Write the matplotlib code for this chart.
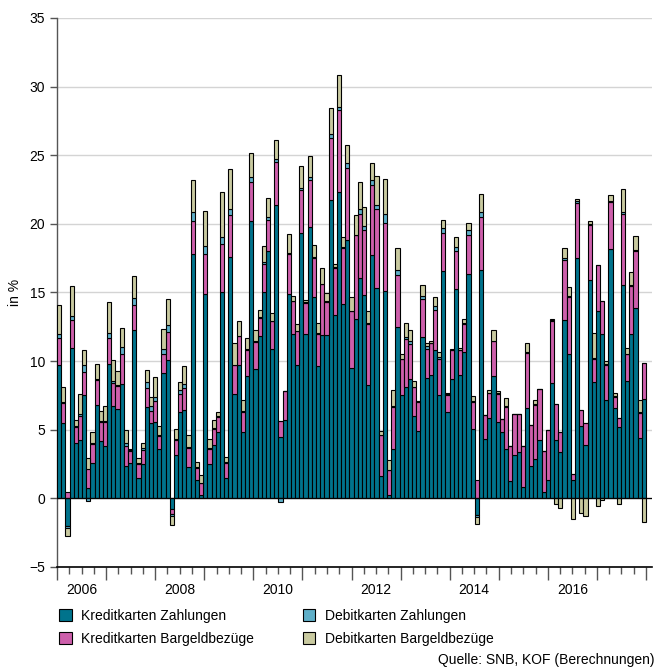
import matplotlib
matplotlib.use("Agg")
import matplotlib.pyplot as plt
import numpy as np

plt.rcParams['font.family'] = ['Liberation Sans', 'DejaVu Sans']

# monthly values from Jan 2006, in %
kredit_zahlungen = [
    9.74, 5.5, -2.0, 10.95, 4.06, 4.28, 7.5, 0.78, 2.6, 6.8, 4.2, 3.8,
    9.8, 6.73, 6.54, 8.36, 2.36, 2.6, 12.3, 1.5, 2.5, 6.65, 5.5, 5.55,
    3.6, 9.15, 10.1, -0.75, 3.13, 6.3, 6.41, 2.28, 17.8, 1.31, 0.27, 14.9,
    2.48, 3.86, 4.83, 15.04, 1.5, 17.6, 7.63, 9.7, 4.83, 8.9, 20.2, 9.45,
    11.8, 15.0, 18.0, 10.9, 21.4, 4.47, 5.7, 14.87, 12.0, 9.74, 19.3, 11.95,
    19.8, 14.67, 9.65, 11.93, 11.88, 21.72, 13.39, 22.33, 14.19, 18.8, 9.5, 13.05,
    16.08, 14.8, 8.28, 17.76, 15.33, 1.6, 15.09, 0.22, 3.62, 12.45, 7.56, 8.11,
    8.67, 5.98, 4.88, 11.76, 8.77, 9.0, 10.84, 7.56, 16.55, 6.29, 8.72, 15.28,
    8.97, 10.67, 16.33, 5.08, -1.24, 16.62, 4.35, 5.88, 8.95, 5.6, 4.8, 3.62,
    1.3, 3.13, 3.38, 0.85, 6.61, 2.38, 2.87, 4.28, 0.5, 1.31, 8.41, 4.28,
    3.36, 13.02, 10.54, 1.36, 17.52, 5.28, 3.9, 15.9, 8.5, 13.64, 11.94, 7.19,
    18.2, 6.6, 5.22, 15.58, 8.54, 11.94, 13.9, 4.42, 7.26]
kredit_bargeld = [
    1.95, 1.45, 0.45, 2.05, 1.14, 1.75, 1.7, 1.35, 1.35, 1.8, 1.35, 1.75,
    1.9, 1.7, 1.66, 2.14, 1.44, 0.85, 1.8, 1.0, 1.05, 1.42, 0.9, 1.55,
    0.94, 1.35, 2.0, -0.36, 1.15, 1.33, 1.66, 1.39, 2.43, 0.9, 0.85, 2.9,
    1.14, 1.22, 1.1, 3.52, 1.07, 3.05, 2.06, 2.1, 1.46, 1.94, 2.86, 1.95,
    1.36, 2.07, 2.28, 2.0, 3.08, 1.17, 2.1, 2.95, 2.36, 2.43, 3.15, 2.28,
    3.4, 2.84, 2.36, 3.67, 2.43, 4.54, 3.4, 5.95, 4.06, 5.3, 4.13, 6.12,
    4.67, 4.73, 4.45, 5.1, 5.73, 2.99, 4.98, 1.82, 3.04, 3.85, 2.57, 3.48,
    2.6, 2.12, 2.14, 2.79, 2.13, 2.3, 2.86, 2.62, 2.75, 1.27, 2.07, 2.72,
    1.82, 2.06, 2.84, 1.94, 1.31, 3.88, 1.7, 1.78, 2.5, 2.03, 1.0, 3.06,
    2.49, 2.99, 2.74, 2.97, 4.0, 2.94, 3.96, 3.72, 2.94, 3.69, 4.51, 2.57,
    1.47, 4.38, 4.13, 0.44, 4.03, 1.18, 1.58, 4.05, 1.68, 3.34, 2.44, 2.55,
    3.4, 0.8, 0.66, 5.17, 1.96, 3.53, 4.15, 1.8, 2.6]
debit_zahlungen = [
    0.3, 0.07, -0.17, 0.3, 0.07, 0.15, 0.55, -0.2, 0.05, 0.07, 0.07, 0.07,
    0.35, 0.1, 0.07, 0.5, 0.2, 0.07, 0.5, 0.05, 0.1, 0.41, 0.3, 0.3,
    0.1, 0.4, 0.55, -0.2, 0.05, 0.29, 0.29, 0.05, 0.66, 0.05, 0.03, 0.6,
    0.05, 0.05, 0.05, 0.49, 0.05, 0.4, 0.05, 0.05, 0.05, 0.05, 0.34, 0.05,
    0.05, 0.12, 0.25, 0.05, 0.25, -0.3, 0.0, 0.05, 0.05, 0.05, 0.17, 0.05,
    0.25, 0.05, 0.05, 0.05, 0.05, 0.32, 0.05, 0.25, 0.05, 0.3, 0.05, 0.05,
    0.35, 0.33, 0.05, 0.32, 0.3, 0.05, 0.63, 0.05, 0.05, 0.32, 0.05, 0.17,
    0.17, 0.05, 0.05, 0.2, 0.2, 0.05, 0.3, 0.12, 0.4, 0.05, 0.05, 0.3,
    0.05, 0.05, 0.36, 0.05, -0.12, 0.37, 0.0, 0.05, 0.05, 0.05, 0.0, 0.05,
    0.0, 0.0, 0.0, 0.0, 0.05, 0.0, 0.05, 0.0, 0.0, 0.0, 0.05, 0.0,
    0.0, 0.15, 0.05, 0.0, 0.12, 0.0, 0.0, 0.05, 0.05, 0.0, 0.0, 0.05,
    0.1, 0.05, 0.0, 0.12, 0.05, 0.05, 0.05, 0.05, 0.0]
debit_bargeld = [
    2.1, 1.1, -0.55, 2.15, 0.43, 1.45, 1.05, 0.84, 0.83, 1.13, 0.78, 1.08,
    2.25, 1.57, 1.03, 1.4, 1.0, 0.08, 1.6, 0.41, 0.38, 0.9, 0.7, 1.45,
    0.66, 1.47, 1.85, -0.65, 0.75, 0.56, 1.31, 0.92, 2.31, 0.39, 0.53, 2.55,
    0.68, 0.56, 0.31, 3.25, 0.36, 2.95, 1.58, 1.07, 0.85, 0.8, 1.8, 0.8,
    0.5, 1.17, 1.36, 0.58, 1.38, 0.0, 0.0, 1.4, 0.33, 0.51, 1.58, 0.2,
    1.5, 0.93, 0.75, 1.15, 0.6, 1.87, 0.27, 2.3, 0.75, 1.38, 1.0, 1.41,
    1.96, 1.37, 0.87, 1.22, 2.14, 0.24, 2.6, 0.68, 1.16, 1.6, 0.37, 1.02,
    0.8, 0.38, 0.05, 0.82, 0.25, 0.15, 0.67, 0.37, 0.56, 0.1, 0.06, 0.75,
    0.12, 0.32, 0.57, 0.36, -0.5, 1.33, 0.0, 0.16, 0.74, 0.17, 0.0, 0.6,
    0.0, 0.0, 0.0, 0.0, 0.66, 0.0, 0.32, 0.0, 0.0, 0.0, 0.13, -0.4,
    -0.72, 0.72, 0.68, -1.49, 0.17, -1.05, -1.3, 0.2, 1.8, -0.58, -0.1, 0.21,
    0.38, 0.25, -0.39, 1.7, 0.43, 1.0, 1.0, 0.87, -1.73]

series = [
    ("Kreditkarten Zahlungen", kredit_zahlungen, "#00738c"),
    ("Kreditkarten Bargeldbezüge", kredit_bargeld, "#cd5fab"),
    ("Debitkarten Zahlungen", debit_zahlungen, "#5fafc8"),
    ("Debitkarten Bargeldbezüge", debit_bargeld, "#c9caa0"),
]
years = list(range(2006, 2018))

fig = plt.figure(figsize=(6.58, 6.68), dpi=100)
ax = fig.add_axes([57 / 658, 1 - 567 / 668, 595 / 658, 549 / 668])

n = len(kredit_zahlungen)
x = np.arange(n)
pos_base = np.zeros(n)
neg_base = np.zeros(n)
for name, vals, col in series:
    v = np.array(vals)
    bottom = np.where(v >= 0, pos_base, neg_base)
    ax.bar(x, v, width=1.0, bottom=bottom, color=col, edgecolor="black",
           linewidth=0.8, label=name, zorder=3)
    pos_base = pos_base + np.where(v >= 0, v, 0)
    neg_base = neg_base + np.where(v < 0, v, 0)

ax.axhline(0, color="black", linewidth=0.9, zorder=4)

ax.set_ylim(-5, 35)
ax.set_yticks(range(-5, 36, 5))
ax.set_yticklabels(["\u22125"] + [str(t) for t in range(0, 36, 5)])
ax.yaxis.grid(True, color="#d4d4d4", linewidth=1.0, zorder=0)
ax.set_ylabel("in %", fontsize=10, labelpad=5)

# the years 2006-2017 span the bars evenly
yr = n / len(years)
ax.set_xlim(-0.5, -0.5 + n * 595 / 589)
ax.set_xticks([-0.5 + yr * k for k in range(len(years) + 1)])
ax.set_xticklabels([])
ax.set_xticks([-0.5 + yr / 4 * k for k in range(4 * len(years) + 1)], minor=True)
ax.tick_params(axis="x", which="major", length=9, width=1.0, color="#555555")
ax.tick_params(axis="x", which="minor", length=5, width=1.0, color="#555555")
ax.tick_params(axis="y", length=5, width=1.0, color="#555555", labelsize=10)
for k, y in enumerate(years):
    if y % 2 == 0:
        ax.text(-0.5 + yr * (k + 0.5), -0.03, str(y), transform=ax.get_xaxis_transform(),
                ha="center", va="top", fontsize=10)

for s in ["top", "right"]:
    ax.spines[s].set_visible(False)
ax.spines["left"].set_color("#555555")
ax.spines["bottom"].set_color("black")
ax.spines["left"].set_linewidth(1.0)
ax.spines["bottom"].set_linewidth(1.2)

fig.legend(loc="upper left", bbox_to_anchor=(59 / 658, 1 - 609 / 668), ncol=2,
           frameon=False, fontsize=10, handlelength=0.9, handleheight=0.9,
           handletextpad=0.7, columnspacing=3.5, labelspacing=0.62,
           borderaxespad=0, borderpad=0)

fig.text(655 / 658, 1 - 660 / 668, "Quelle: SNB, KOF (Berechnungen)",
         ha="right", va="center", fontsize=10)

fig.savefig("out.png", dpi=100)
